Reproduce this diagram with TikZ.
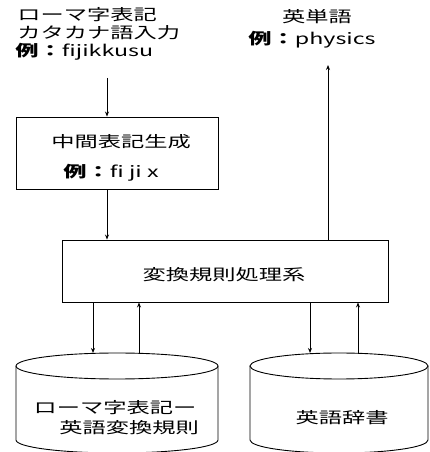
\documentclass[tikz,border=0pt]{standalone}
\usepackage{fontspec}
\setmainfont{Noto Sans CJK JP}[FakeStretch=1.5]
\usetikzlibrary{arrows.meta}
\begin{document}
\begin{tikzpicture}[x=1pt,y=1pt,line width=0.9pt,
  every node/.style={font=\fontsize{15.5pt}{17pt}\selectfont, inner sep=0pt},
  arr/.style={-{Stealth[length=5pt,width=4pt]}},
  box/.style={draw, minimum width=202pt, minimum height=72pt},
  bigbox/.style={draw, minimum width=326pt, minimum height=62pt}]
\useasboundingbox (0,0) rectangle (430,452);
% top texts
\node[anchor=west] (t1) at (17,437) {ローマ字表記};
\node[anchor=west] (t2) at (17,419) {カタカナ語入力};
\node[anchor=west] (t3) at (15,400) {\textbf{例：}fijikkusu};
\node (e1) at (317,435) {英単語};
\node (e2) at (312,412) {\textbf{例：}physics};
% boxes
\node[box] (b1) at (117,299) {};
\node (b1a) at (121,310) {中間表記生成};
\node (b1b) at (111,279) {\textbf{例：}fi ji x};
\node[bigbox] (b2) at (225,181) {};
\node (b2a) at (224,177) {変換規則処理系};
% coordinates
\coordinate (in0) at (107,374);
\coordinate (out) at (328,387);
\coordinate (d1) at (93,99);
\coordinate (u1) at (139,99);
\coordinate (d2) at (310,99);
\coordinate (u2) at (358,99);
% cylinders
\draw (16,86) -- (16,12) arc[start angle=180,end angle=360,x radius=101pt,y radius=13pt] -- (218,86);
\draw (117,86) ellipse [x radius=101pt,y radius=13pt];
\draw (250,86) -- (250,12) arc[start angle=180,end angle=360,x radius=89pt,y radius=13pt] -- (428,86);
\draw (339,86) ellipse [x radius=89pt,y radius=13pt];
\node (c1a) at (115,44) {ローマ字表記ー};
\node (c1b) at (129,24) {英語変換規則};
\node (c2) at (342,34) {英語辞書};
% connectors
\draw[arr] (in0) -- (in0 |- b1.north);
\draw[arr] ([xshift=-10pt]b1.south) -- ([xshift=-10pt]b1.south |- b2.north);
\draw[arr] (out |- b2.north) -- (out);
\draw[arr] (d1 |- b2.south) -- (d1);
\draw[arr] (u1) -- (u1 |- b2.south);
\draw[arr] (d2 |- b2.south) -- (d2);
\draw[arr] (u2) -- (u2 |- b2.south);
\end{tikzpicture}
\end{document}
